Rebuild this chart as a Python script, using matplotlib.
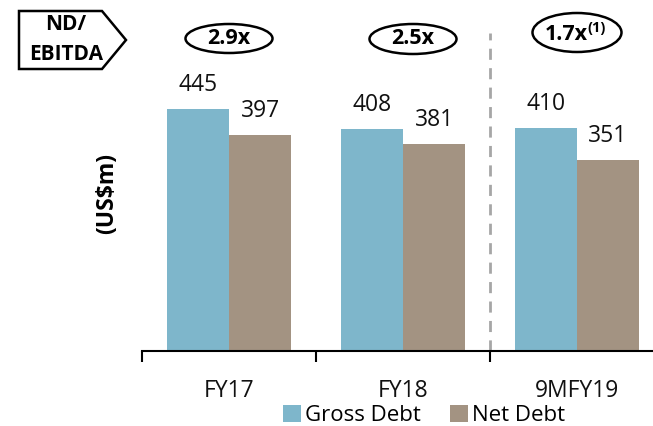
import matplotlib
matplotlib.use("Agg")
import matplotlib.pyplot as plt
from matplotlib.patches import Ellipse, Polygon, Patch
import numpy as np

categories = ["FY17", "FY18", "9MFY19"]
gross_debt = [445, 408, 410]
net_debt = [397, 381, 351]
ratios = ["2.9x", "2.5x", "1.7x"]
ratio_notes = ["", "", "(1)"]

BLUE = "#7EB6CB"
BROWN = "#A39382"
FONT = "Open Sans"

W, H = 653, 426
fig = plt.figure(figsize=(W / 100, H / 100), dpi=100)

# main axes geometry in pixels
AX_L, AX_R, AX_BOT = 142, 653, 351
PX_PER_CAT = 174.0
PX_PER_UNIT = 0.543

ax = fig.add_axes([AX_L / W, (H - AX_BOT) / H, (AX_R - AX_L) / W, AX_BOT / H])
ax.set_xlim(-0.5, -0.5 + (AX_R - AX_L) / PX_PER_CAT)
ax.set_ylim(0, AX_BOT / PX_PER_UNIT)

def py2y(py):
    return (AX_BOT - py) / PX_PER_UNIT

x = np.arange(len(categories))
bw = 62 / PX_PER_CAT
b1 = ax.bar(x - bw / 2, gross_debt, bw, color=BLUE, label="Gross Debt", zorder=2)
b2 = ax.bar(x + bw / 2, net_debt, bw, color=BROWN, label="Net Debt", zorder=2)

for bars, vals in ((b1, gross_debt), (b2, net_debt)):
    for r, v in zip(bars, vals):
        ax.annotate(f"{v}", (r.get_x() + r.get_width() / 2, v), xytext=(0, 24 * 0.72),
                    textcoords="offset points", ha="center", va="center",
                    fontsize=16.5, family=FONT, color="#111111")

for s in ("top", "right", "left"):
    ax.spines[s].set_visible(False)
ax.spines["bottom"].set_linewidth(1.5)
ax.set_yticks([])
ax.set_xticks(x)
ax.set_xticklabels(categories, fontsize=16.5, family=FONT, color="#111111")
ax.tick_params(axis="x", which="major", length=0, pad=20)
ax.set_xticks(np.arange(len(categories)) - 0.5, minor=True)
ax.tick_params(axis="x", which="minor", length=8, width=1.5, direction="out")

# dashed separator
ax.vlines(1.5, 0, py2y(33), colors="#A6A6A6", linestyles=(0, (4, 3)), linewidth=2, zorder=1)

# ratio ellipses
ell_dx = [0.0, 10 / PX_PER_CAT, 0.0]
ell_cy = [38.5, 39, 32.5]
ell_w = [87, 87, 89]
ell_h = [29, 30, 39]
for i, (rt, note) in enumerate(zip(ratios, ratio_notes)):
    cx = x[i] + ell_dx[i]
    cy = py2y(ell_cy[i])
    e = Ellipse((cx, cy), ell_w[i] / PX_PER_CAT, ell_h[i] / PX_PER_UNIT,
                facecolor="none", edgecolor="black", linewidth=1.8, clip_on=False)
    ax.add_patch(e)
    if note:
        ax.text(cx - 11 / PX_PER_CAT, py2y(34), rt, ha="center", va="center",
                fontsize=15.5, fontweight="bold", family=FONT)
        ax.text(cx + 20 / PX_PER_CAT, py2y(28), note, ha="center", va="center",
                fontsize=10.5, fontweight="bold", family=FONT)
    else:
        ax.text(cx, cy, rt, ha="center", va="center",
                fontsize=15.5, fontweight="bold", family=FONT)

ax.set_ylabel("(US$m)", fontsize=16.5, fontweight="bold", family=FONT)
ax.yaxis.set_label_coords((119 - AX_L) / (AX_R - AX_L), (AX_BOT - 194) / AX_BOT)

# overlay for the ND/EBITDA tag
ov = fig.add_axes([0, 0, 1, 1], zorder=-1)
ov.set_xlim(0, W)
ov.set_ylim(H, 0)
ov.axis("off")
ov.add_patch(Polygon([(19, 11), (102, 11), (126, 40), (102, 69), (19, 69)],
                     closed=True, facecolor="white", edgecolor="black", linewidth=1.8))
ov.text(66, 25, "ND/", ha="center", va="center", fontsize=15, fontweight="bold", family=FONT)
ov.text(66, 55, "EBITDA", ha="center", va="center", fontsize=15, fontweight="bold", family=FONT)

handles = [Patch(facecolor=BLUE), Patch(facecolor=BROWN)]
fig.legend(handles, ["Gross Debt", "Net Debt"], loc="center",
           bbox_to_anchor=(424 / W, 1 - 415.5 / H), ncol=2, frameon=False,
           prop={"family": FONT, "size": 16}, handlelength=0.8, handleheight=0.8,
           handletextpad=0.2, columnspacing=1.3, borderpad=0, borderaxespad=0)

fig.savefig("out.png", dpi=100)
